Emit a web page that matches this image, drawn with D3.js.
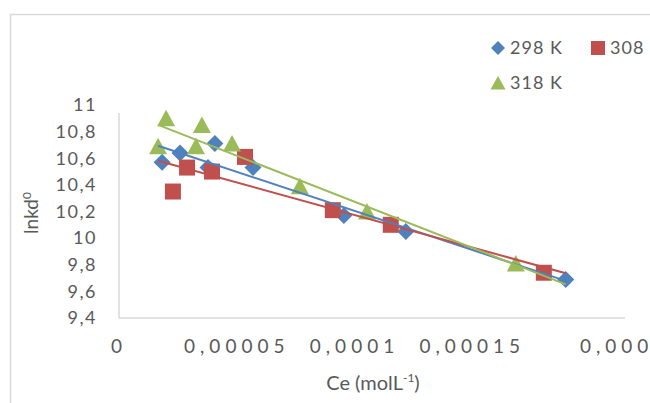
<!DOCTYPE html>
<html>
<head>
<meta charset="utf-8">
<script src="https://cdn.jsdelivr.net/npm/d3@7"></script>
<style>
  body { margin: 0; background: #fff; }
  svg { display: block; font-family: Lato, "Open Sans", sans-serif; }
</style>
</head>
<body>
<div id="chart"></div>
<script>
// data (Ce in mol/L, lnkd0)
const ce298 = [1.83e-5, 2.59e-5, 3.78e-5, 4.07e-5, 5.69e-5, 9.55e-5, 12.18e-5, 18.97e-5];
const lnk298 = [10.57, 10.64, 10.53, 10.71, 10.53, 10.17, 10.05, 9.69];

const ce308 = [2.29e-5, 2.89e-5, 3.95e-5, 5.35e-5, 9.08e-5, 11.54e-5, 18.04e-5];
const lnk308 = [10.35, 10.53, 10.50, 10.61, 10.21, 10.10, 9.74];

const ce318 = [1.66e-5, 2.00e-5, 3.27e-5, 3.52e-5, 4.80e-5, 7.68e-5, 10.53e-5, 16.85e-5];
const lnk318 = [10.69, 10.90, 10.69, 10.85, 10.71, 10.39, 10.20, 9.81];

const seriesNames = ["298 K", "308", "318 K"];
const xTicks = [0, 0.00005, 0.0001, 0.00015, 0.0002];
const xTickLabels = ["0", "0,00005", "0,0001", "0,00015", "0,0002"];
const yTicks = [9.4, 9.6, 9.8, 10, 10.2, 10.4, 10.6, 10.8, 11];

const svgWidth = 650;
const svgHeight = 403;
const textColor = "#595959";
const colors = ["#4F81BD", "#C0504D", "#9BBB59"];

const series = [
  { name: seriesNames[0], x: ce298, y: lnk298, color: colors[0], shape: "diamond" },
  { name: seriesNames[1], x: ce308, y: lnk308, color: colors[1], shape: "square" },
  { name: seriesNames[2], x: ce318, y: lnk318, color: colors[2], shape: "triangle" }
];

const svg = d3.select("#chart").append("svg")
  .attr("width", svgWidth)
  .attr("height", svgHeight);

// chart area border (cropped on right and bottom)
svg.append("rect")
  .attr("x", 10.5).attr("y", 14.5)
  .attr("width", 700).attr("height", 500)
  .attr("fill", "none")
  .attr("stroke", "#d9d9d9")
  .attr("stroke-width", 1.5);

// scales
const xScale = d3.scaleLinear().domain([0, 0.0002]).range([119, 590]);
const yScale = d3.scaleLinear().domain([9.4, 11]).range([318, 105]);

// axis lines
svg.append("line")
  .attr("x1", xScale(0)).attr("x2", xScale(0))
  .attr("y1", yScale(11) + 8).attr("y2", yScale(9.4))
  .attr("stroke", "#d9d9d9").attr("stroke-width", 1.5);
svg.append("line")
  .attr("x1", xScale(0)).attr("x2", xScale(0.0002) + 35)
  .attr("y1", yScale(9.4)).attr("y2", yScale(9.4))
  .attr("stroke", "#d9d9d9").attr("stroke-width", 1.5);

// y tick labels
svg.append("g").selectAll("text")
  .data(yTicks)
  .enter().append("text")
  .attr("x", 97)
  .attr("y", d => yScale(d))
  .attr("dy", "0.35em")
  .attr("text-anchor", "end")
  .attr("font-size", "18px")
  .attr("letter-spacing", "1.5px")
  .attr("fill", textColor)
  .text(d => d3.format(".1f")(d).replace(".0", "").replace(".", ","));

// x tick labels (the last one sits partly outside the picture, as in the source)
svg.append("g").selectAll("text")
  .data(xTicks)
  .enter().append("text")
  .attr("x", (d, i) => i === xTicks.length - 1 ? xScale(d) - 10 : xScale(d))
  .attr("y", 353)
  .attr("text-anchor", (d, i) => i === xTicks.length - 1 ? "start" : "middle")
  .attr("font-size", "19px")
  .attr("letter-spacing", "5px")
  .attr("fill", textColor)
  .text((d, i) => xTickLabels[i]);

// axis titles
const xTitle = svg.append("text")
  .attr("x", 373).attr("y", 390)
  .attr("text-anchor", "middle")
  .attr("font-size", "20px")
  .attr("fill", textColor);
xTitle.append("tspan").text("Ce (molL");
xTitle.append("tspan").attr("font-size", "12px").attr("dy", "-8").text("-1");
xTitle.append("tspan").attr("dy", "8").text(")");

const yTitle = svg.append("text")
  .attr("transform", "translate(38, 213) rotate(-90)")
  .attr("text-anchor", "middle")
  .attr("font-size", "19px")
  .attr("fill", textColor);
yTitle.append("tspan").text("lnkd");
yTitle.append("tspan").attr("font-size", "12px").attr("dy", "-7").text("0");

// marker shapes
function markerPath(shape) {
  if (shape === "diamond") return "M0,-8.5L8.5,0L0,8.5L-8.5,0Z";
  if (shape === "square") return "M-8,-8H8V8H-8Z";
  return "M0,-8.5L9,8H-9Z";
}

// markers
series.forEach(s => {
  svg.append("g").selectAll("path")
    .data(s.x.map((x, i) => ({ x: x, y: s.y[i] })))
    .enter().append("path")
    .attr("d", markerPath(s.shape))
    .attr("transform", d => `translate(${xScale(d.x)},${yScale(d.y)})`)
    .attr("fill", s.color);
});

// linear trendlines over the common x range
const allX = ce298.concat(ce308, ce318);
const xMin = d3.min(allX);
const xMax = d3.max(allX);
series.forEach(s => {
  const mx = d3.mean(s.x);
  const my = d3.mean(s.y);
  let sxy = 0, sxx = 0;
  s.x.forEach((x, i) => {
    sxy += (x - mx) * (s.y[i] - my);
    sxx += (x - mx) * (x - mx);
  });
  const slope = sxy / sxx;
  const icept = my - slope * mx;
  svg.append("line")
    .attr("x1", xScale(xMin)).attr("y1", yScale(icept + slope * xMin))
    .attr("x2", xScale(xMax)).attr("y2", yScale(icept + slope * xMax))
    .attr("stroke", s.color)
    .attr("stroke-width", 2);
});

// legend
const legendItems = [
  { s: series[0], x: 498, y: 48 },
  { s: series[1], x: 598, y: 48 },
  { s: series[2], x: 498, y: 83 }
];
const legend = svg.append("g").selectAll("g")
  .data(legendItems)
  .enter().append("g")
  .attr("transform", d => `translate(${d.x},${d.y})`);
legend.append("path")
  .attr("d", d => d.s.shape === "diamond" ? "M0,-7L7,0L0,7L-7,0Z"
    : d.s.shape === "square" ? "M-7,-7H7V7H-7Z" : "M0,-7L7.5,6.5H-7.5Z")
  .attr("fill", d => d.s.color);
legend.append("text")
  .attr("x", 12)
  .attr("dy", "0.35em")
  .attr("font-size", "18px")
  .attr("letter-spacing", "1px")
  .attr("fill", textColor)
  .text(d => d.s.name);
</script>
</body>
</html>
